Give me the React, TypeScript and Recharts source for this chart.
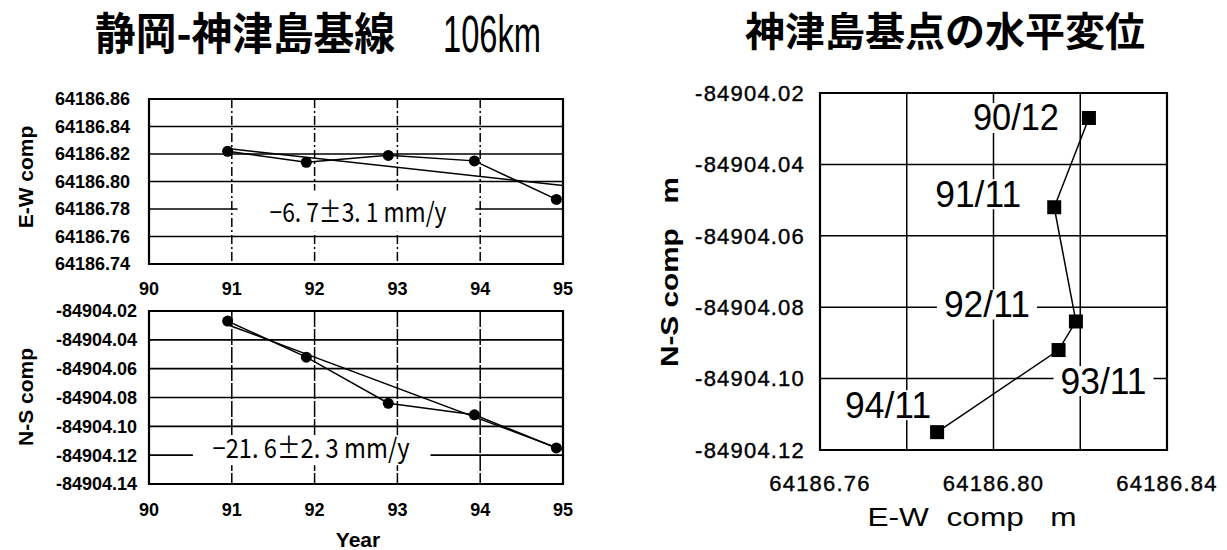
import React from 'react';
import {
  ComposedChart,
  Line,
  XAxis,
  YAxis,
  CartesianGrid,
  ReferenceArea,
  ScatterChart,
  Scatter,
} from 'recharts';

// ---------- data ----------
const yearTicks = [90, 91, 92, 93, 94, 95];
const obsYears = [90.95, 91.9, 92.89, 93.93, 94.92];
const obsDates = ['90/12', '91/11', '92/11', '93/11', '94/11'];
const ewValues = [64186.822, 64186.814, 64186.819, 64186.815, 64186.787];
const nsValues = [-84904.027, -84904.052, -84904.084, -84904.092, -84904.115];
const fitYears = [90.95, 95];
const ewFitValues = [64186.824, 64186.797];
const nsFitValues = [-84904.0295, -84904.1165];
const ewTicks = [64186.74, 64186.76, 64186.78, 64186.8, 64186.82, 64186.84, 64186.86];
const nsTicksLeft = [-84904.14, -84904.12, -84904.1, -84904.08, -84904.06, -84904.04, -84904.02];
const ewTicksRight = [64186.76, 64186.78, 64186.8, 64186.82, 64186.84];
const ewTickLabelsRight = [64186.76, 64186.8, 64186.84];
const nsTicksRight = [-84904.12, -84904.1, -84904.08, -84904.06, -84904.04, -84904.02];
const ewRateText = '−6. 7±3. 1 mm/y';
const nsRateText = '−21. 6±2. 3 mm/y';
const leftTitle = '静岡-神津島基線';
const leftTitleDist = '106km';
const rightTitle = '神津島基点の水平変位';

// label placement (style, relative to the marker)
const dateLabelOffsets = [
  [-73, 0],
  [-76, -13],
  [-89, -17],
  [45, 31],
  [-49, -27],
];

const ewSeries = obsYears.map((x, i) => ({ x, y: ewValues[i] }));
const nsSeries = obsYears.map((x, i) => ({ x, y: nsValues[i] }));
const ewFitSeries = fitYears.map((x, i) => ({ x, y: ewFitValues[i] }));
const nsFitSeries = fitYears.map((x, i) => ({ x, y: nsFitValues[i] }));
const hzSeries = obsDates.map((label, i) => ({ x: ewValues[i], y: nsValues[i], label }));

const FONT = '"Liberation Sans", Arial, sans-serif';
const CJK = '"Noto Sans CJK JP", "Noto Sans CJK SC", sans-serif';

const leftTick = { fontSize: 18, fontWeight: 'bold', fill: '#000', fontFamily: FONT };
const rightTick = { fontSize: 22, fill: '#000', fontFamily: FONT, letterSpacing: 1.2, stroke: '#000', strokeWidth: 0.4 };

const dotStyle = { r: 5.5, fill: '#000', stroke: '#000', strokeWidth: 0 };

const fmt2 = (v: number) => v.toFixed(2);

const renderSquare = (props: any) => {
  const { cx, cy, payload } = props;
  const idx = obsDates.indexOf(payload.label);
  const [dx, dy] = dateLabelOffsets[idx] || [0, 0];
  const lx = cx + dx;
  const ly = cy + dy;
  return (
    <g>
      <rect x={lx - 50} y={ly - 15} width={100} height={30} fill="#fff" />
      <text
        x={lx}
        y={ly}
        textAnchor="middle"
        dominantBaseline="central"
        fontSize={36}
        fontFamily={FONT}
        fill="#000"
        textLength={86}
        lengthAdjust="spacingAndGlyphs"
      >
        {payload.label}
      </text>
      <rect x={cx - 7} y={cy - 7} width={14} height={14} fill="#000" />
    </g>
  );
};

export default function App() {
  return (
    <div
      style={{
        position: 'absolute',
        left: 0,
        top: 0,
        width: 1227,
        height: 550,
        background: '#fff',
        overflow: 'hidden',
        fontFamily: FONT,
      }}
    >
      {/* top-left: E-W vs year */}
      <div style={{ position: 'absolute', left: 0, top: 0 }}>
        <ComposedChart width={600} height={300} margin={{ top: 99, right: 37, bottom: 6, left: 0 }}>
          <CartesianGrid vertical={false} stroke="#000" strokeWidth={1.6} />
          <CartesianGrid horizontal={false} stroke="#000" strokeWidth={1.5} strokeDasharray="9 3 2 3" />
          <XAxis
            dataKey="x"
            type="number"
            domain={[90, 95]}
            ticks={yearTicks}
            interval={0}
            allowDataOverflow
            tickSize={0}
            tickMargin={18}
            axisLine={false}
            height={30}
            tick={leftTick}
          />
          <YAxis
            type="number"
            domain={[ewTicks[0], ewTicks[ewTicks.length - 1]]}
            ticks={ewTicks}
            interval={0}
            allowDataOverflow
            width={149}
            tickSize={0}
            tickMargin={19}
            axisLine={false}
            tick={leftTick}
            tickFormatter={fmt2}
          />
          <ReferenceArea x1={91.07} x2={93.94} y1={64186.7635} y2={64186.7935} fill="#fff" fillOpacity={1} stroke="none" />
          <ReferenceArea
            x1={90}
            x2={95}
            y1={ewTicks[0]}
            y2={ewTicks[ewTicks.length - 1]}
            fill="none"
            stroke="#000"
            strokeWidth={2.2}
          />
          <Line data={ewFitSeries} dataKey="y" stroke="#000" strokeWidth={1.5} dot={false} isAnimationActive={false} />
          <Line data={ewSeries} dataKey="y" stroke="#000" strokeWidth={1.5} dot={dotStyle} isAnimationActive={false} />
        </ComposedChart>
      </div>

      {/* bottom-left: N-S vs year */}
      <div style={{ position: 'absolute', left: 0, top: 300 }}>
        <ComposedChart width={600} height={250} margin={{ top: 11, right: 37, bottom: 26, left: 0 }}>
          <CartesianGrid vertical={false} stroke="#000" strokeWidth={1.6} />
          <CartesianGrid horizontal={false} stroke="#000" strokeWidth={1.5} strokeDasharray="16 2" />
          <XAxis
            dataKey="x"
            type="number"
            domain={[90, 95]}
            ticks={yearTicks}
            interval={0}
            allowDataOverflow
            tickSize={0}
            tickMargin={19}
            axisLine={false}
            height={40}
            tick={leftTick}
          />
          <YAxis
            type="number"
            domain={[nsTicksLeft[0], nsTicksLeft[nsTicksLeft.length - 1]]}
            ticks={nsTicksLeft}
            interval={0}
            allowDataOverflow
            width={149}
            tickSize={0}
            tickMargin={12}
            axisLine={false}
            tick={leftTick}
            tickFormatter={fmt2}
          />
          <ReferenceArea x1={90.53} x2={93.4} y1={-84904.127} y2={-84904.107} fill="#fff" fillOpacity={1} stroke="none" />
          <ReferenceArea
            x1={90}
            x2={95}
            y1={nsTicksLeft[0]}
            y2={nsTicksLeft[nsTicksLeft.length - 1]}
            fill="none"
            stroke="#000"
            strokeWidth={2.2}
          />
          <Line data={nsFitSeries} dataKey="y" stroke="#000" strokeWidth={1.5} dot={false} isAnimationActive={false} />
          <Line data={nsSeries} dataKey="y" stroke="#000" strokeWidth={1.5} dot={dotStyle} isAnimationActive={false} />
        </ComposedChart>
      </div>

      {/* right: horizontal displacement */}
      <div style={{ position: 'absolute', left: 620, top: 0 }}>
        <ScatterChart width={607} height={550} margin={{ top: 93, right: 60, bottom: 40, left: 0 }}>
          <CartesianGrid stroke="#000" strokeWidth={1.5} />
          <XAxis
            dataKey="x"
            type="number"
            domain={[ewTicksRight[0], ewTicksRight[ewTicksRight.length - 1]]}
            ticks={ewTicksRight}
            interval={0}
            allowDataOverflow
            tickSize={0}
            tickMargin={25}
            axisLine={false}
            height={60}
            tick={rightTick}
            tickFormatter={(v: number) =>
              ewTickLabelsRight.some((t) => Math.abs(t - v) < 1e-6) ? v.toFixed(2) : ''
            }
          />
          <YAxis
            dataKey="y"
            type="number"
            domain={[nsTicksRight[0], nsTicksRight[nsTicksRight.length - 1]]}
            ticks={nsTicksRight}
            interval={0}
            allowDataOverflow
            width={200}
            tickSize={0}
            tickMargin={15}
            axisLine={false}
            tick={rightTick}
            tickFormatter={fmt2}
          />
          <ReferenceArea
            x1={ewTicksRight[0]}
            x2={ewTicksRight[ewTicksRight.length - 1]}
            y1={nsTicksRight[0]}
            y2={nsTicksRight[nsTicksRight.length - 1]}
            fill="none"
            stroke="#000"
            strokeWidth={2.2}
          />
          <Scatter
            data={hzSeries}
            line={{ stroke: '#000', strokeWidth: 1.5 }}
            shape={renderSquare}
            isAnimationActive={false}
          />
        </ScatterChart>
      </div>

      {/* texts */}
      <svg
        width={1227}
        height={550}
        style={{ position: 'absolute', left: 0, top: 0, pointerEvents: 'none' }}
      >
        <text x={95} y={50} fontSize={44} fontWeight="bold" fontFamily={CJK} textLength={300} lengthAdjust="spacingAndGlyphs" fill="#000">
          {leftTitle}
        </text>
        <text x={443} y={52} fontSize={52} fontFamily={FONT} textLength={98} lengthAdjust="spacingAndGlyphs" fill="#000">
          {leftTitleDist}
        </text>
        <text x={745} y={46} fontSize={40} fontWeight="bold" fontFamily={CJK} fill="#000">
          {rightTitle}
        </text>

        <text x={358} y={222} textAnchor="middle" fontSize={27} fontFamily={CJK} textLength={177} lengthAdjust="spacingAndGlyphs" fill="#000" xmlSpace="preserve">
          {ewRateText}
        </text>
        <text x={311} y={458} textAnchor="middle" fontSize={27} fontFamily={CJK} textLength={197} lengthAdjust="spacingAndGlyphs" fill="#000" xmlSpace="preserve">
          {nsRateText}
        </text>

        <text transform="translate(25,177) rotate(-90)" textAnchor="middle" dominantBaseline="central" fontSize={21} fontWeight="bold" fontFamily={FONT} fill="#000">
          E-W comp
        </text>
        <text transform="translate(25,397) rotate(-90)" textAnchor="middle" dominantBaseline="central" fontSize={21} fontWeight="bold" fontFamily={FONT} fill="#000">
          N-S comp
        </text>
        <text x={358} y={539} textAnchor="middle" dominantBaseline="central" fontSize={21} fontWeight="bold" fontFamily={FONT} fill="#000">
          Year
        </text>
        <text transform="translate(669,272) rotate(-90)" textAnchor="middle" dominantBaseline="central" fontSize={24} fontWeight="bold" fontFamily={FONT} fill="#000" textLength={190} lengthAdjust="spacingAndGlyphs" xmlSpace="preserve">
          {'N-S comp   m'}
        </text>
        <text x={972} y={517} textAnchor="middle" dominantBaseline="central" fontSize={25} fontFamily={FONT} fill="#000" textLength={209} lengthAdjust="spacingAndGlyphs" xmlSpace="preserve">
          {'E-W  comp   m'}
        </text>
      </svg>
    </div>
  );
}
